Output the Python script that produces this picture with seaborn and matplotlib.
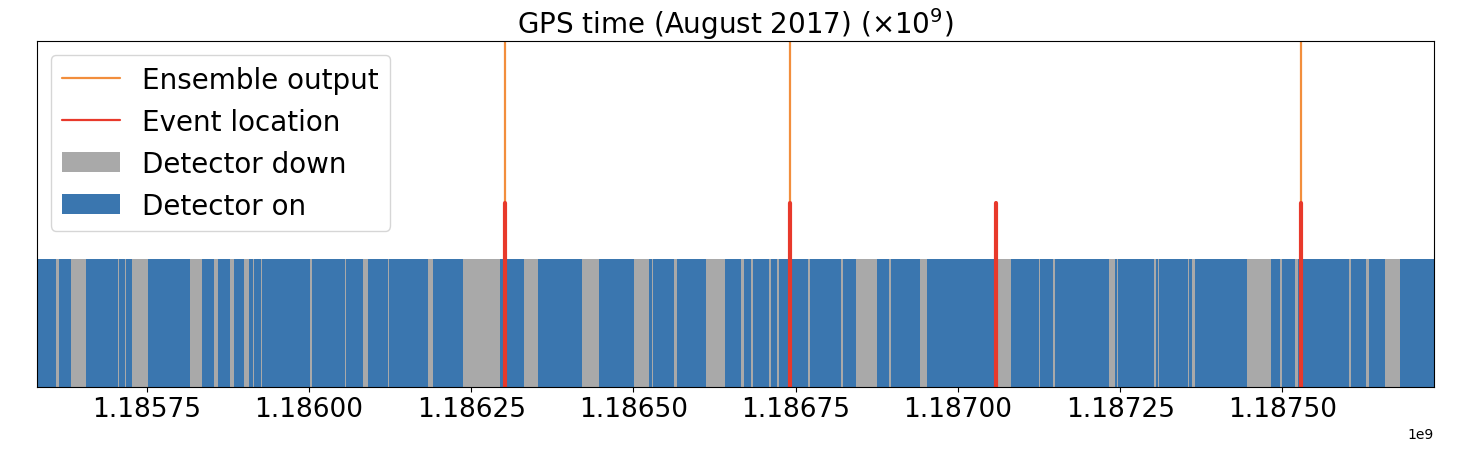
import numpy as np
import matplotlib
matplotlib.use("Agg")
import matplotlib.pyplot as plt
import seaborn as sns
from matplotlib.patches import Patch
from matplotlib.lines import Line2D

# GPS range of the run shown (1 Aug 2017 -> 25 Aug 2017 22:00 UTC)
t_start = 1185580818
t_end = 1187733618

# detector down periods (GPS seconds, start/end)
down_start = [1185610405, 1185633212, 1185706101, 1185716426, 1185727984, 1185816129,
              1185842326, 1185854037, 1185879002, 1185900576, 1185913212, 1185926002,
              1185937251, 1185963294, 1186001203, 1186056217, 1186083184, 1186121709,
              1186183657, 1186237592, 1186331747, 1186420663, 1186501257, 1186528533,
              1186549028, 1186563051, 1186612055, 1186665990, 1186681554, 1186693882,
              1186709138, 1186721620, 1186769391, 1186820090, 1186842897, 1186894212,
              1186941521, 1187001620, 1187062181, 1187124592, 1187146166, 1187233232,
              1187244636, 1187302423, 1187308279, 1187354817, 1187360981, 1187444966,
              1187496281, 1187519088, 1187603072, 1187628807, 1187658548]
down_end = [1185615028, 1185656327, 1185707642, 1185717967, 1185752640, 1185834775,
            1185842476, 1185859277, 1185885011, 1185907972, 1185915523, 1185927543,
            1185937401, 1185963444, 1186004285, 1186056367, 1186091660, 1186124021,
            1186190746, 1186294763, 1186352397, 1186446552, 1186524372, 1186530845,
            1186549178, 1186566596, 1186641797, 1186670305, 1186684174, 1186694032,
            1186711604, 1186724548, 1186772011, 1186823326, 1186875258, 1186896832,
            1186952308, 1187001770, 1187082214, 1187126903, 1187149556, 1187242324,
            1187246947, 1187304889, 1187309820, 1187356512, 1187364988, 1187482720,
            1187498593, 1187523557, 1187606154, 1187633892, 1187680431]

# known events and ensemble triggers
events = [1186302519, 1186741861, 1187058327, 1187529256]
ensemble = [1186302519, 1186741861, 1187529256]

c_on = "#3a76af"
c_down = "#a9a9a9"
c_ens = "#f28e3c"
c_evt = "#e8392b"

# on segments are the gaps between down periods
on_edges = [t_start] + [v for pair in zip(down_start, down_end) for v in pair] + [t_end]
on_segs = [(on_edges[i], on_edges[i + 1] - on_edges[i]) for i in range(0, len(on_edges), 2)]

sns.set_style("ticks", rc={"text.color": "black", "axes.labelcolor": "black",
                           "xtick.color": "black", "ytick.color": "black",
                           "axes.edgecolor": "black", "xtick.major.size": 3.5})
plt.rcParams["font.family"] = ["DejaVu Sans"]

fig = plt.figure(figsize=(14.66, 4.6), dpi=100)
ax = fig.add_axes([0.0252, 0.1572, 0.9530, 0.7515])

ax.broken_barh([(t_start, t_end - t_start)], (0, 1), facecolors=c_down, linewidth=0)
ax.broken_barh(on_segs, (0, 1), facecolors=c_on, linewidth=0)
for t in ensemble:
    ax.axvline(t, ymin=0, ymax=1, color=c_ens, lw=1.6)
for t in events:
    ax.axvline(t, ymin=0, ymax=0.53, color=c_evt, lw=3)

ax.set_xlim(t_start, t_end)
ax.set_ylim(0, 2.7)
ax.set_yticks([])
ax.tick_params(axis="x", labelsize=19)
ax.set_title(r"GPS time (August 2017) ($\times 10^9$)", fontsize=20)

handles = [Line2D([0], [0], color=c_ens, lw=1.6),
           Line2D([0], [0], color=c_evt, lw=1.6),
           Patch(facecolor=c_down, linewidth=0),
           Patch(facecolor=c_on, linewidth=0)]
labels = ["Ensemble output", "Event location", "Detector down", "Detector on"]
ax.legend(handles, labels, loc="upper left", fontsize=20, handlelength=2.1)

fig.savefig("out.png", dpi=100)
